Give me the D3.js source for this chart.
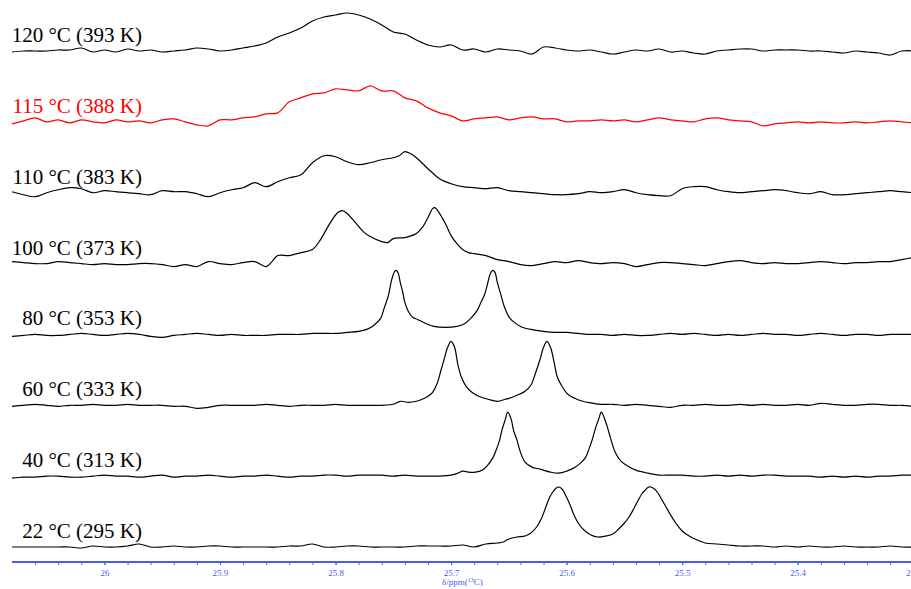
<!DOCTYPE html>
<html>
<head>
<meta charset="utf-8">
<script src="https://cdn.jsdelivr.net/npm/d3@7"></script>
<style>
  body { margin: 0; background: #fff; }
  svg { display: block; }
</style>
</head>
<body>
<svg id="chart" width="911" height="589"></svg>
<script>
// Variable temperature 13C spectra, top trace first
const labels = ['120 °C (393 K)', '115 °C (388 K)', '110 °C (383 K)', '100 °C (373 K)',
                '80 °C (353 K)', '60 °C (333 K)', '40 °C (313 K)', '22 °C (295 K)'];
const colors = ['black', 'red', 'black', 'black', 'black', 'black', 'black', 'black'];

// [ppm, intensity]
const spec120 = [[26.08,-1],[26.07,0],[26.06,0],[26.05,0],[26.04,1],[26.03,1],[26.02,3],[26.01,-1],[26.00,1],[25.99,-1],[25.98,2],[25.97,0],[25.96,1],[25.95,-1],[25.94,0],[25.93,1],[25.92,3],[25.91,2],[25.90,0],[25.89,1],[25.88,3],[25.87,5],[25.86,8],[25.85,14],[25.84,18],[25.83,23],[25.82,30],[25.81,34],[25.80,36],[25.79,38],[25.78,36],[25.77,32],[25.76,26],[25.75,19],[25.74,17],[25.73,11],[25.72,6],[25.71,4],[25.70,6],[25.69,1],[25.68,2],[25.67,-1],[25.66,2],[25.65,1],[25.64,0],[25.63,-3],[25.62,4],[25.61,3],[25.60,1],[25.59,0],[25.58,1],[25.57,-1],[25.56,-3],[25.55,-1],[25.54,1],[25.53,0],[25.52,2],[25.51,-1],[25.50,0],[25.49,-2],[25.48,-3],[25.47,0],[25.46,1],[25.45,2],[25.44,2],[25.43,0],[25.42,1],[25.41,1],[25.40,1],[25.39,0],[25.38,0],[25.37,-1],[25.36,-2],[25.35,0],[25.34,-1],[25.33,-2],[25.32,-4],[25.31,0],[25.30,0]];
const spec115 = [[26.08,-2],[26.07,1],[26.06,4],[26.05,0],[26.04,2],[26.03,-1],[26.02,2],[26.01,0],[26.00,-1],[25.99,2],[25.98,0],[25.97,1],[25.96,-1],[25.95,2],[25.94,3],[25.93,0],[25.92,-3],[25.91,-4],[25.90,2],[25.89,2],[25.88,4],[25.87,5],[25.86,8],[25.85,9],[25.84,20],[25.83,24],[25.82,28],[25.81,29],[25.80,33],[25.79,32],[25.78,31],[25.77,36],[25.76,31],[25.75,31],[25.74,24],[25.73,21],[25.72,14],[25.71,9],[25.70,6],[25.69,1],[25.68,3],[25.67,4],[25.66,5],[25.65,2],[25.64,4],[25.63,5],[25.62,3],[25.61,3],[25.60,0],[25.59,1],[25.58,1],[25.57,2],[25.56,1],[25.55,2],[25.54,0],[25.53,2],[25.52,4],[25.51,2],[25.50,1],[25.49,0],[25.48,3],[25.47,4],[25.46,2],[25.45,1],[25.44,0],[25.43,-4],[25.42,-2],[25.41,-1],[25.40,0],[25.39,-1],[25.38,0],[25.37,-1],[25.36,-1],[25.35,0],[25.34,-1],[25.33,0],[25.32,1],[25.31,0],[25.30,-1]];
const spec110 = [[26.08,1],[26.07,-2],[26.06,-4],[26.05,0],[26.04,3],[26.03,5],[26.02,4],[26.01,0],[26.00,2],[25.99,1],[25.98,0],[25.97,-1],[25.96,-2],[25.95,2],[25.94,1],[25.93,1],[25.92,-1],[25.91,-4],[25.90,0],[25.89,3],[25.88,5],[25.87,10],[25.86,6],[25.85,11],[25.84,15],[25.83,18],[25.82,30],[25.81,37],[25.80,36],[25.79,31],[25.78,28],[25.77,30],[25.76,33],[25.75,35],[25.745,37],[25.74,41],[25.735,39],[25.73,35],[25.72,24],[25.71,14],[25.70,9],[25.69,6],[25.68,5],[25.67,4],[25.66,5],[25.65,2],[25.64,1],[25.63,0],[25.62,-1],[25.61,-2],[25.60,-2],[25.59,-1],[25.58,1],[25.57,0],[25.56,1],[25.55,3],[25.54,0],[25.53,-2],[25.52,-3],[25.51,-3],[25.50,4],[25.49,6],[25.48,6],[25.47,3],[25.46,1],[25.45,0],[25.44,1],[25.43,2],[25.42,3],[25.41,2],[25.40,0],[25.39,-1],[25.38,1],[25.37,-2],[25.36,-2],[25.35,-1],[25.34,0],[25.33,1],[25.32,2],[25.31,1],[25.30,0]];
const spec100 = [[26.08,2],[26.07,1],[26.06,0],[26.05,0],[26.04,2],[26.03,1],[26.02,0],[26.01,-1],[26.00,0],[25.99,-1],[25.98,-1],[25.97,0],[25.96,0],[25.95,-1],[25.94,-3],[25.93,-1],[25.92,-3],[25.91,2],[25.90,0],[25.89,-1],[25.88,1],[25.87,2],[25.86,-3],[25.855,2],[25.85,8],[25.84,8],[25.83,11],[25.82,14],[25.813,24],[25.805,40],[25.798,51],[25.794,53],[25.79,50],[25.785,44],[25.776,32],[25.77,27],[25.76,22],[25.755,21],[25.75,25],[25.74,26],[25.73,30],[25.725,36],[25.72,46],[25.716,55],[25.714,56],[25.711,52],[25.705,40],[25.70,28],[25.695,20],[25.69,14],[25.685,11],[25.68,10],[25.67,8],[25.66,4],[25.65,2],[25.64,-1],[25.63,-2],[25.62,0],[25.61,2],[25.60,1],[25.59,3],[25.58,1],[25.57,0],[25.56,1],[25.55,0],[25.54,-3],[25.53,-1],[25.52,1],[25.51,1],[25.50,0],[25.49,-1],[25.48,-2],[25.47,0],[25.46,2],[25.45,3],[25.44,1],[25.43,0],[25.42,1],[25.41,0],[25.40,0],[25.39,1],[25.38,2],[25.37,1],[25.36,0],[25.35,1],[25.34,1],[25.33,2],[25.32,2],[25.31,4],[25.30,6]];
const spec80 = [[26.08,-2],[26.07,-1],[26.06,0],[26.05,-1],[26.04,-1],[26.03,0],[26.02,1],[26.01,0],[26.00,-1],[25.99,0],[25.98,1],[25.97,0],[25.96,-2],[25.95,-3],[25.94,-1],[25.93,0],[25.92,1],[25.91,0],[25.90,-1],[25.89,0],[25.88,-1],[25.87,-1],[25.86,-1],[25.85,0],[25.84,0],[25.83,0],[25.82,1],[25.81,1],[25.80,1],[25.79,2],[25.78,3],[25.773,5],[25.767,9],[25.761,16],[25.758,26],[25.754,40],[25.752,52],[25.750,60],[25.748,64],[25.746,62],[25.744,52],[25.742,43],[25.740,32],[25.737,23],[25.733,17],[25.729,15],[25.722,11],[25.715,8],[25.705,7],[25.695,8],[25.688,11],[25.683,16],[25.678,23],[25.675,30],[25.671,40],[25.669,48],[25.666,61],[25.664,64],[25.662,62],[25.660,52],[25.657,40],[25.654,28],[25.649,16],[25.644,11],[25.640,8],[25.631,5],[25.62,3],[25.61,2],[25.60,2],[25.59,1],[25.58,0],[25.57,0],[25.56,-1],[25.55,0],[25.54,-1],[25.53,-1],[25.52,0],[25.51,1],[25.50,0],[25.49,1],[25.48,0],[25.47,-1],[25.46,0],[25.45,-1],[25.44,0],[25.43,1],[25.42,0],[25.41,0],[25.40,-1],[25.39,0],[25.38,1],[25.37,0],[25.36,-1],[25.35,0],[25.34,0],[25.33,-1],[25.32,0],[25.31,0],[25.30,0]];
const spec60 = [[26.08,-1],[26.07,0],[26.06,1],[26.05,0],[26.04,-1],[26.03,0],[26.02,0],[26.01,1],[26.00,0],[25.99,0],[25.98,1],[25.97,0],[25.96,0],[25.95,0],[25.94,-1],[25.93,-1],[25.92,-3],[25.91,-2],[25.90,0],[25.89,0],[25.88,0],[25.87,0],[25.86,1],[25.85,0],[25.84,-1],[25.83,0],[25.82,0],[25.81,0],[25.80,1],[25.79,0],[25.78,0],[25.77,0],[25.76,0],[25.75,1],[25.744,4],[25.737,3],[25.73,4],[25.725,6],[25.72,9],[25.716,13],[25.712,22],[25.709,34],[25.706,46],[25.703,58],[25.700,64],[25.697,58],[25.694,40],[25.691,28],[25.687,19],[25.682,13],[25.676,9],[25.668,6],[25.660,4],[25.653,6],[25.647,8],[25.641,11],[25.636,14],[25.631,20],[25.627,32],[25.623,46],[25.620,58],[25.617,64],[25.614,58],[25.611,44],[25.608,28],[25.604,19],[25.599,11],[25.593,7],[25.586,4],[25.577,2],[25.57,1],[25.56,1],[25.55,0],[25.54,1],[25.53,0],[25.52,-1],[25.51,-2],[25.50,0],[25.49,0],[25.48,1],[25.47,0],[25.46,0],[25.45,1],[25.44,0],[25.43,1],[25.42,0],[25.41,0],[25.40,1],[25.39,0],[25.38,2],[25.37,1],[25.36,0],[25.35,0],[25.34,1],[25.33,1],[25.32,0],[25.31,0],[25.30,-1]];
const spec40 = [[26.08,-2],[26.07,-1],[26.06,-1],[26.05,0],[26.04,0],[26.03,-1],[26.02,-1],[26.01,0],[26.00,1],[25.99,0],[25.98,0],[25.97,-1],[25.96,0],[25.95,1],[25.94,-1],[25.93,0],[25.92,0],[25.91,1],[25.90,0],[25.89,-1],[25.88,0],[25.87,0],[25.86,1],[25.85,0],[25.84,-1],[25.83,0],[25.82,0],[25.81,1],[25.80,1],[25.79,0],[25.78,1],[25.77,1],[25.76,1],[25.75,0],[25.74,1],[25.73,0],[25.72,0],[25.71,0],[25.70,1],[25.694,3],[25.690,5],[25.685,4],[25.679,4],[25.673,6],[25.669,10],[25.664,18],[25.661,26],[25.658,36],[25.656,46],[25.653,57],[25.651,64],[25.648,57],[25.646,46],[25.643,36],[25.640,24],[25.636,14],[25.630,9],[25.623,7],[25.614,4],[25.607,3],[25.600,5],[25.594,8],[25.589,12],[25.584,18],[25.581,26],[25.578,36],[25.575,48],[25.572,58],[25.570,64],[25.568,60],[25.565,50],[25.562,38],[25.558,24],[25.553,15],[25.547,10],[25.540,6],[25.530,3],[25.52,1],[25.51,1],[25.50,1],[25.49,0],[25.48,0],[25.47,1],[25.46,0],[25.45,1],[25.44,0],[25.43,1],[25.42,1],[25.41,0],[25.40,0],[25.39,0],[25.38,-1],[25.37,0],[25.36,-1],[25.35,0],[25.34,-1],[25.33,0],[25.32,0],[25.31,1],[25.30,1]];
const spec22 = [[26.08,0],[26.07,0],[26.06,0],[26.05,0],[26.04,0],[26.03,0],[26.02,-1],[26.01,1],[26.00,0],[25.99,0],[25.98,1],[25.97,3],[25.96,0],[25.95,0],[25.94,1],[25.93,0],[25.92,0],[25.91,1],[25.90,1],[25.89,0],[25.88,0],[25.87,0],[25.86,0],[25.85,0],[25.84,1],[25.83,1],[25.82,3],[25.81,0],[25.80,0],[25.79,1],[25.78,1],[25.77,0],[25.76,0],[25.75,0],[25.74,0],[25.73,1],[25.72,1],[25.71,1],[25.70,1],[25.69,2],[25.68,0],[25.67,3],[25.66,4],[25.655,5],[25.65,8],[25.643,10],[25.636,11],[25.631,14],[25.626,20],[25.622,28],[25.618,40],[25.615,49],[25.612,55],[25.609,59],[25.607,60],[25.604,58],[25.601,52],[25.597,42],[25.594,33],[25.590,24],[25.585,17],[25.579,12],[25.573,10],[25.566,11],[25.560,13],[25.555,18],[25.550,24],[25.546,30],[25.542,38],[25.538,47],[25.535,53],[25.532,57],[25.529,60],[25.527,60],[25.524,58],[25.521,54],[25.518,48],[25.514,40],[25.510,32],[25.505,23],[25.500,16],[25.494,11],[25.487,7],[25.48,4],[25.47,3],[25.46,2],[25.45,1],[25.44,1],[25.43,1],[25.42,0],[25.41,1],[25.40,0],[25.39,1],[25.38,0],[25.37,0],[25.36,1],[25.35,0],[25.34,0],[25.33,0],[25.32,1],[25.31,0],[25.30,0]];

const spectra = [spec120, spec115, spec110, spec100, spec80, spec60, spec40, spec22];

// axis ticks (ppm)
const majorTicks = [26, 25.9, 25.8, 25.7, 25.6, 25.5, 25.4, 25.3];

const axisColor = '#4a5af2';
const svg = d3.select('#chart');

// reversed ppm axis, as usual for NMR
const x = d3.scaleLinear().domain([26.08, 25.3]).range([12, 913.3]);
// baseline of each trace
const row = d3.scalePoint().domain(labels).range([51, 547]);
// intensity -> pixel offset (up is negative)
const amp = d3.scaleLinear().domain([0, 64]).range([0, -64]);

const line = d3.line()
    .x(d => x(d[0]))
    .y(d => amp(d[1]))
    .curve(d3.curveCatmullRom.alpha(0.5));

labels.forEach((lab, i) => {
    const g = svg.append('g').attr('transform', `translate(0,${row(lab)})`);
    g.append('path')
        .datum(spectra[i])
        .attr('d', line)
        .attr('fill', 'none')
        .attr('stroke', colors[i])
        .attr('stroke-width', 1.2);
    g.append('text')
        .attr('x', 142)
        .attr('y', -9)
        .attr('text-anchor', 'end')
        .attr('font-family', 'Liberation Serif, Times New Roman, serif')
        .attr('font-size', '21px')
        .attr('fill', colors[i])
        .text(lab);
});

// x axis
const axisG = svg.append('g').attr('transform', 'translate(0,562)');
axisG.append('g')
    .call(d3.axisBottom(x).tickValues(d3.range(25.3, 26.08, 0.02)).tickSize(3).tickSizeOuter(0).tickFormat(''))
    .call(g => g.select('.domain').remove())
    .call(g => g.selectAll('line').attr('stroke', axisColor));
axisG.append('g')
    .call(d3.axisBottom(x).tickValues(majorTicks).tickSize(3).tickSizeOuter(0).tickPadding(5)
        .tickFormat(d => d3.format('.1f')(d).replace(/\.0$/, '')))
    .call(g => g.select('.domain').remove())
    .call(g => g.selectAll('line').attr('stroke', axisColor))
    .call(g => g.selectAll('text')
        .attr('fill', axisColor)
        .attr('font-family', 'Liberation Serif, Times New Roman, serif')
        .attr('font-size', '9px'));
axisG.append('line')
    .attr('x1', x(26.08)).attr('x2', x(25.3))
    .attr('stroke', axisColor)
    .attr('stroke-width', 2);

const title = svg.append('text')
    .attr('x', 442)
    .attr('y', 585)
    .attr('font-family', 'Liberation Serif, Times New Roman, serif')
    .attr('font-size', '9px')
    .attr('fill', axisColor);
title.append('tspan').text('δ/ppm(');
title.append('tspan').attr('font-size', '6px').attr('dy', -3).text('13');
title.append('tspan').attr('dy', 3).text('C)');
</script>
</body>
</html>
